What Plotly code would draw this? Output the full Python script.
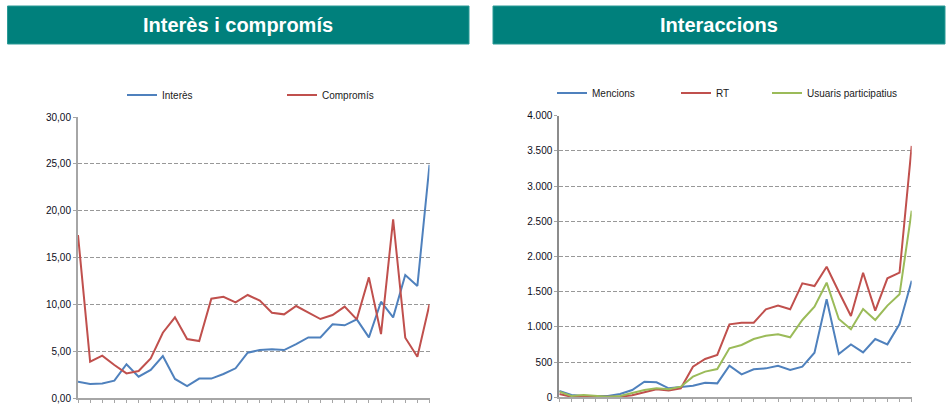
import plotly.graph_objects as go

# ---- data ----
categories = ["01-11", "02-11", "03-11", "04-11", "05-11", "06-11", "07-11", "08-11", "09-11", "10-11",
              "11-11", "12-11", "13-11", "14-11", "15-11", "16-11", "17-11", "18-11", "19-11", "20-11",
              "21-11", "22-11", "23-11", "24-11", "25-11", "26-11", "27-11", "28-11", "29-11", "30-11"]

interes = [1.74, 1.50, 1.55, 1.85, 3.60, 2.28, 3.00, 4.48, 2.03, 1.28,
           2.07, 2.07, 2.56, 3.17, 4.84, 5.12, 5.20, 5.12, 5.76, 6.47,
           6.47, 7.87, 7.76, 8.40, 6.47, 10.28, 8.61, 13.13, 11.96, 24.90]
compromis = [17.40, 3.88, 4.52, 3.52, 2.63, 2.88, 4.23, 6.97, 8.61, 6.30,
             6.08, 10.60, 10.80, 10.20, 11.00, 10.40, 9.10, 8.93, 9.82, 9.10,
             8.43, 8.86, 9.75, 8.40, 12.88, 6.83, 19.08, 6.44, 4.41, 10.00]

mencions = [90, 33, 18, 18, 18, 47, 104, 222, 213, 128,
            142, 165, 208, 198, 449, 326, 397, 411, 449, 388,
            435, 634, 1392, 615, 752, 638, 828, 752, 1041, 1657]
rt = [47, 9, 9, 9, 9, 9, 28, 71, 114, 95,
      128, 435, 544, 601, 1037, 1060, 1060, 1250, 1302, 1250,
      1619, 1581, 1855, 1500, 1155, 1770, 1231, 1690, 1770, 3570]
usuaris = [80, 18, 33, 18, 9, 18, 57, 104, 128, 114,
           151, 293, 365, 402, 696, 743, 828, 875, 895, 852,
           1098, 1287, 1628, 1112, 966, 1254, 1098, 1302, 1463, 2651]

titles = ["Interès i compromís", "Interaccions"]
left_names = ["Interès", "Compromís"]
right_names = ["Mencions", "RT", "Usuaris participatius"]

# ---- styles ----
W, H = 946, 407
BLUE, RED, GREEN = "#4F81BD", "#C0504D", "#9BBB59"
TEAL = "#00807C"
FONT = "Liberation Sans Narrow, Arial Narrow, Liberation Sans, Arial, sans-serif"

def px(x):
    return x / W

def py(y):
    return 1 - y / H

idx = list(range(len(categories)))
ticktext = [c if i % 3 == 0 else "" for i, c in enumerate(categories)]

fig = go.Figure()

fig.add_trace(go.Scatter(x=idx, y=interes, name=left_names[0], mode="lines",
                         line=dict(color=BLUE, width=2), xaxis="x", yaxis="y", legend="legend"))
fig.add_trace(go.Scatter(x=idx, y=compromis, name=left_names[1], mode="lines",
                         line=dict(color=RED, width=2), xaxis="x", yaxis="y", legend="legend2"))
fig.add_trace(go.Scatter(x=idx, y=mencions, name=right_names[0], mode="lines",
                         line=dict(color=BLUE, width=2), xaxis="x2", yaxis="y2", legend="legend3"))
fig.add_trace(go.Scatter(x=idx, y=rt, name=right_names[1], mode="lines",
                         line=dict(color=RED, width=2), xaxis="x2", yaxis="y2", legend="legend4"))
fig.add_trace(go.Scatter(x=idx, y=usuaris, name=right_names[2], mode="lines",
                         line=dict(color=GREEN, width=2), xaxis="x2", yaxis="y2", legend="legend5"))

xcommon = dict(range=[0, len(categories) - 1], tickmode="array", tickvals=idx, ticktext=ticktext,
               ticks="outside", ticklen=3, tickwidth=1, tickcolor="#A6A6A6", tickangle=0,
               showgrid=False, zeroline=False, showline=True, linecolor="#A6A6A6", linewidth=2,
               tickfont=dict(family=FONT, size=9, color="#333333"), fixedrange=True)
ygrid = dict(showgrid=True, gridcolor="#989898", griddash="4px,2px", gridwidth=1, zeroline=False,
             showline=True, linewidth=2, ticks="outside", ticklen=3, tickcolor="#A6A6A6",
             tickfont=dict(family=FONT, size=10, color="#0d0d1a"), fixedrange=True)

fig.update_layout(
    width=W, height=H, margin=dict(l=0, r=0, t=0, b=0, autoexpand=False),
    paper_bgcolor="white", plot_bgcolor="white", separators=",.",
    showlegend=True,
    xaxis=dict(domain=[px(78), px(429.5)], anchor="y", **xcommon),
    yaxis=dict(domain=[py(398), py(117)], anchor="x", range=[0, 30], dtick=5, tickformat=".2f",
               linecolor="#A6A6A6", **ygrid),
    xaxis2=dict(domain=[px(559.3), px(911.7)], anchor="y2", **xcommon),
    yaxis2=dict(domain=[py(397.3), py(115.7)], anchor="x2", range=[0, 4000], dtick=500, tickformat=",d",
                linecolor="#8C8C8C", **ygrid),
)

leg_font = dict(family=FONT, size=10, color="#1a1a1a")
leg_pos = {"legend": (123, 95), "legend2": (283, 95),
           "legend3": (553, 93), "legend4": (677, 93), "legend5": (768, 93)}
for k, (lx, ly) in leg_pos.items():
    fig.update_layout(**{k: dict(x=px(lx - 1), y=py(ly), xanchor="left", yanchor="middle",
                                 orientation="h", font=leg_font, bgcolor="rgba(0,0,0,0)",
                                 itemwidth=30, tracegroupgap=0)})

# header bars
headers = [(7.5, 469, titles[0]), (493, 945, titles[1])]
for x0, x1, t in headers:
    fig.add_shape(type="rect", xref="paper", yref="paper", x0=px(x0), x1=px(x1), y0=py(44), y1=py(6),
                  fillcolor=TEAL, line=dict(color="#2a9a96", width=1), layer="below")
    fig.add_annotation(xref="paper", yref="paper", x=px((x0 + x1) / 2), y=py(25), text="<b>" + t + "</b>",
                       showarrow=False, xanchor="center", yanchor="middle",
                       font=dict(family="Liberation Sans, Arial, sans-serif", size=20, color="white"))

fig.write_html("out.html", config={"displayModeBar": False},
               post_script="document.body.style.margin='0';document.body.style.overflow='hidden';")
